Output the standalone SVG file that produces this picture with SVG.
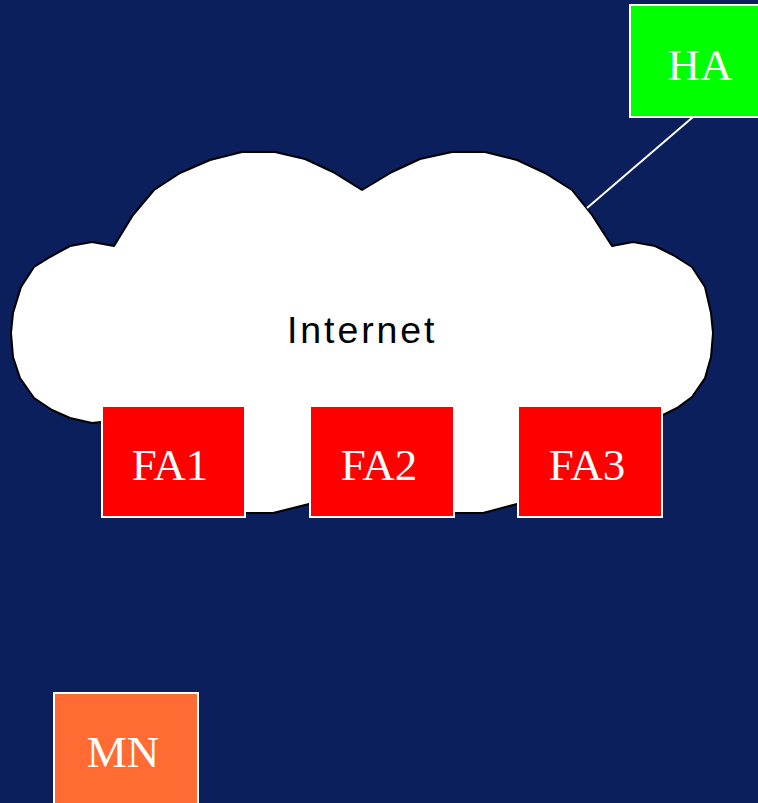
<svg xmlns="http://www.w3.org/2000/svg" width="758" height="803" viewBox="0 0 758 803">
<style>
.bg{fill:#0A1F5B}
.box{stroke:#FFFFFF;stroke-width:2}
.lbl{font-family:"Liberation Serif","Times New Roman",serif;font-size:45px;fill:#FFFFFF;text-anchor:middle}
.conn{stroke:#FFFFFF;stroke-width:2;fill:none}
</style>
<rect class="bg" x="0" y="0" width="758" height="803"/>
<g id="internet">
<path d="M362,190 L333,172 L305,159 L275,152 L242,152 L210,160 L180,173 L154,190 L133,215 L114,246 L92,242 L70,246 L50,257 L34,267 L21,287 L13,313 L11,333 L13,357 L20,378 L34,398 L52,410 L70,418 L92,423 L101,422 L150,470 L200,505 L246,513 L273,513 L309,504 L340,500 L380,508 L420,512 L454,513 L483,513 L517,504 L560,500 L610,480 L650,430 L663,415 L677,408 L692,397 L705,378 L711,357 L713,333 L711,313 L705,287 L692,267 L673,255 L655,246 L633,242 L612,246 L592,215 L572,190 L545,173 L517,160 L485,152 L452,152 L420,159 L392,172 Z" fill="#FFFFFF" stroke="#000000" stroke-width="2" stroke-linejoin="round"/>
<text x="287" y="343" font-family="'Liberation Sans',Arial,sans-serif" font-size="37.5" letter-spacing="2.9" fill="#000000">Internet</text>
</g>
<g id="connectors">
<line class="conn" x1="693" y1="117" x2="587" y2="208"/>
</g>
<g id="HA">
<rect class="box" x="630" y="5" width="140" height="112" fill="#00FF00"/>
<text class="lbl" x="700" y="80">HA</text>
</g>
<g id="FA1">
<rect class="box" x="102" y="406" width="143" height="111" fill="#FF0000"/>
<text class="lbl" x="170" y="480">FA1</text>
</g>
<g id="FA2">
<rect class="box" x="310" y="406" width="144" height="111" fill="#FF0000"/>
<text class="lbl" x="379" y="480">FA2</text>
</g>
<g id="FA3">
<rect class="box" x="518" y="406" width="144" height="111" fill="#FF0000"/>
<text class="lbl" x="587" y="480">FA3</text>
</g>
<g id="MN">
<rect class="box" x="54" y="693" width="144" height="120" fill="#FF6B33"/>
<text class="lbl" x="123" y="767">MN</text>
</g>
</svg>
